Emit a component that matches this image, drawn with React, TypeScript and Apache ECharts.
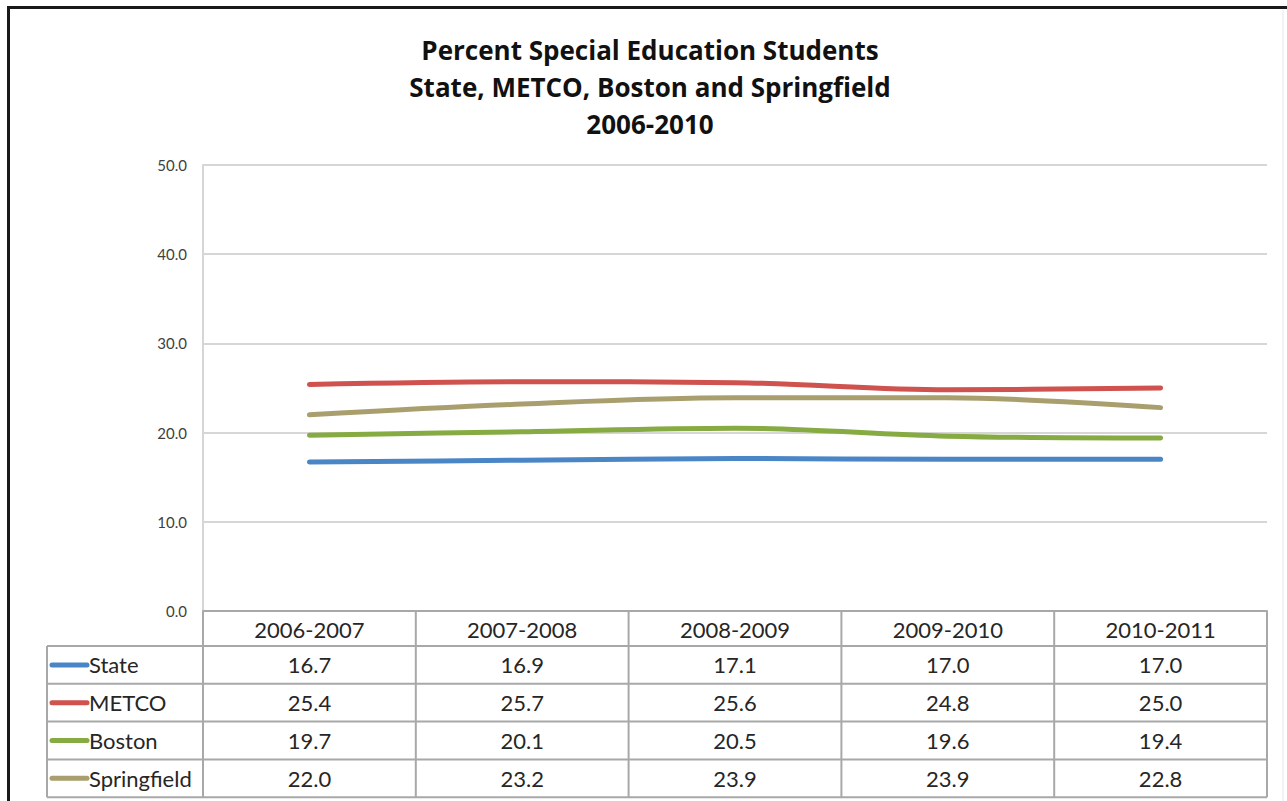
import React, { useEffect, useRef } from "react";
import * as echarts from "echarts";

const categories = ["2006-2007", "2007-2008", "2008-2009", "2009-2010", "2010-2011"];
const seriesNames = ["State", "METCO", "Boston", "Springfield"];
const stateValues = [16.7, 16.9, 17.1, 17.0, 17.0];
const metcoValues = [25.4, 25.7, 25.6, 24.8, 25.0];
const bostonValues = [19.7, 20.1, 20.5, 19.6, 19.4];
const springfieldValues = [22.0, 23.2, 23.9, 23.9, 22.8];
const seriesColors = ["#4a86c6", "#cf524e", "#86ab42", "#a99f6e"];
const titleLines = ["Percent Special Education Students", "State, METCO, Boston and Springfield", "2006-2010"];

const W = 1287;
const H = 801;
const GRID_LEFT = 203;
const GRID_RIGHT = 20;
const GRID_TOP = 165;
const GRID_BOTTOM = 190;
const FONT = "Lato, 'Open Sans', sans-serif";
const TITLE_FONT = "'Open Sans', Lato, sans-serif";
const GRID_COLOR = "#d6d6d6";
const TABLE_COLOR = "#a8a8a8";

export default function App() {
  const ref = useRef<HTMLDivElement>(null);
  useEffect(() => {
    if (!ref.current) return;
    const chart = echarts.init(ref.current, undefined, { renderer: "svg" });
    const allValues = [stateValues, metcoValues, bostonValues, springfieldValues];
    chart.setOption({
      animation: false,
      backgroundColor: "#ffffff",
      grid: { left: GRID_LEFT, right: GRID_RIGHT, top: GRID_TOP, bottom: GRID_BOTTOM, containLabel: false },
      xAxis: {
        type: "category",
        data: categories,
        boundaryGap: true,
        axisLine: { show: true, lineStyle: { color: TABLE_COLOR, width: 2 } },
        axisTick: { show: false },
        axisLabel: { show: false },
        splitLine: { show: false },
      },
      yAxis: {
        type: "value",
        min: 0,
        max: 50,
        interval: 10,
        axisLine: { show: true, lineStyle: { color: GRID_COLOR, width: 2 } },
        axisTick: { show: false },
        splitLine: { show: true, lineStyle: { color: GRID_COLOR, width: 2 } },
        axisLabel: {
          formatter: (v: number) => v.toFixed(1),
          color: "#404040",
          fontSize: 15,
          fontFamily: FONT,
          margin: 16,
          padding: [6, 0, 0, 0],
        },
      },
      series: allValues.map((vals, i) => ({
        name: seriesNames[i],
        type: "line",
        data: vals,
        smooth: 0.35,
        symbol: "none",
        lineStyle: { color: seriesColors[i], width: 5, cap: "round" },
        z: 2 + (4 - i),
      })),
    });

    const colCenters = categories.map((_, i) => chart.convertToPixel({ xAxisIndex: 0 }, i) as number);
    const colW = colCenters.length > 1 ? colCenters[1] - colCenters[0] : 200;
    const xRight = colCenters[colCenters.length - 1] + colW / 2;
    const headerTop = chart.convertToPixel({ yAxisIndex: 0 }, 0) as number;
    const headerBottom = headerTop + 35;
    const rowH = 37.8;
    const legendLeft = 47;
    const tableBottom = headerBottom + rowH * seriesNames.length;

    const g: any[] = [];
    const line = (x1: number, y1: number, x2: number, y2: number, color = TABLE_COLOR, w = 2) =>
      g.push({ type: "line", shape: { x1, y1, x2, y2 }, style: { stroke: color, lineWidth: w }, silent: true });

    // outer frame
    line(8.5, 7, 8.5, H, "#1a1a1a", 3);
    line(7, 7.5, W, 7.5, "#1a1a1a", 3);
    line(1283, 10, 1283, H, "#e6e6e6", 1);

    // title
    titleLines.forEach((t, i) => {
      g.push({
        type: "text",
        x: 650,
        y: 50 + i * 37,
        style: {
          text: t,
          fill: "#111111",
          font: `bold 26px ${TITLE_FONT}`,
          textAlign: "center",
          textVerticalAlign: "middle",
        },
      });
    });

    // table grid lines
    colCenters.forEach((c) => {
      line(c - colW / 2, headerTop, c - colW / 2, tableBottom);
    });
    line(xRight, headerTop, xRight, tableBottom);
    line(legendLeft, headerBottom, legendLeft, tableBottom);
    for (let r = 0; r <= seriesNames.length; r++) {
      const y = headerBottom + r * rowH;
      line(legendLeft, y, xRight, y);
    }

    // header labels
    categories.forEach((c, i) => {
      g.push({
        type: "text",
        x: colCenters[i],
        y: (headerTop + headerBottom) / 2 + 1,
        style: { text: c, fill: "#262626", font: `22px ${FONT}`, textAlign: "center", textVerticalAlign: "middle" },
      });
    });

    // rows
    seriesNames.forEach((name, r) => {
      const cy = headerBottom + r * rowH + rowH / 2;
      g.push({
        type: "line",
        shape: { x1: 52, y1: cy, x2: 87, y2: cy },
        style: { stroke: seriesColors[r], lineWidth: 5, lineCap: "round" },
      });
      g.push({
        type: "text",
        x: 89,
        y: cy,
        style: { text: name, fill: "#262626", font: `22px ${FONT}`, textAlign: "left", textVerticalAlign: "middle" },
      });
      allValues[r].forEach((v, i) => {
        g.push({
          type: "text",
          x: colCenters[i],
          y: cy,
          style: { text: v.toFixed(1), fill: "#262626", font: `22px ${FONT}`, textAlign: "center", textVerticalAlign: "middle" },
        });
      });
    });

    chart.setOption({ graphic: { elements: g } });
    return () => chart.dispose();
  }, []);
  return <div ref={ref} style={{ position: "fixed", left: 0, top: 0, width: W, height: H }} />;
}
